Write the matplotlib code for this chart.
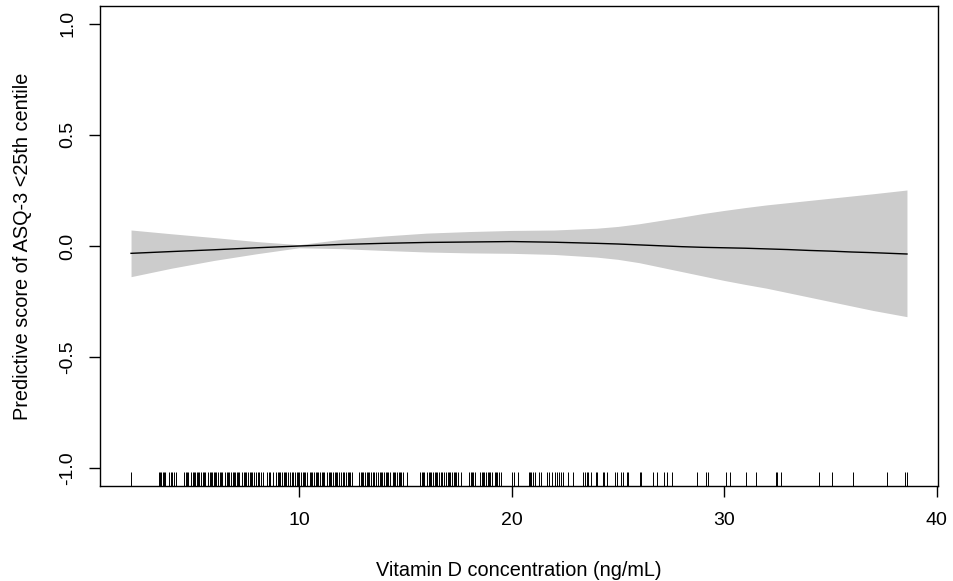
import matplotlib
matplotlib.use("Agg")
import matplotlib.pyplot as plt
import matplotlib.transforms as mtransforms
import numpy as np

plt.rcParams['font.family'] = ['Liberation Sans', 'DejaVu Sans']

# smooth fit
vitd = [2.1, 4.0, 6.0, 8.0, 10.0, 12.0, 14.0, 16.0, 18.0, 20.0, 22.0,
        24.0, 25.0, 26.0, 27.0, 28.0, 29.0, 30.0, 31.0, 32.0, 33.0, 34.0,
        35.0, 36.0, 37.0, 38.6]
fit = [-0.033, -0.025, -0.017, -0.008, 0.0, 0.007, 0.012, 0.016, 0.018, 0.020, 0.017,
       0.012, 0.009, 0.005, 0.001, -0.003, -0.006, -0.008, -0.010, -0.013, -0.016, -0.020,
       -0.023, -0.027, -0.030, -0.036]
upper = [0.072, 0.055, 0.038, 0.020, 0.006, 0.030, 0.045, 0.058, 0.065, 0.070, 0.072,
         0.080, 0.088, 0.100, 0.115, 0.130, 0.146, 0.160, 0.173, 0.185, 0.195, 0.205,
         0.215, 0.225, 0.235, 0.252]
lower = [-0.138, -0.100, -0.065, -0.035, -0.008, -0.012, -0.020, -0.027, -0.031, -0.033, -0.038,
         -0.050, -0.060, -0.075, -0.095, -0.115, -0.135, -0.155, -0.173, -0.190, -0.210, -0.230,
         -0.250, -0.270, -0.290, -0.318]

# observed values shown as rug
rug = [2.1,
       3.4, 3.45, 3.5, 3.6, 3.65, 3.7, 3.9, 4.0, 4.05, 4.1, 4.2, 4.6, 4.7, 4.75, 4.8, 4.9,
       5.0, 5.05, 5.1, 5.2, 5.25, 5.3, 5.4, 5.5, 5.55, 5.6, 5.7, 5.8, 5.85, 5.9, 6.0,
       6.05, 6.1, 6.2, 6.3, 6.35, 6.4, 6.5, 6.6, 6.65, 6.7, 6.8, 6.9, 6.95, 7.0, 7.1,
       7.15, 7.2, 7.3, 7.4, 7.45, 7.5, 7.6, 7.7, 7.75, 7.8, 7.9, 8.0, 8.05, 8.1, 8.2,
       8.3, 8.5, 8.6, 8.65, 8.8, 8.9, 9.0, 9.05, 9.1, 9.2, 9.3, 9.35, 9.4, 9.5, 9.6,
       9.65, 9.7, 9.8, 9.9, 9.95, 10.0, 10.1, 10.2, 10.25, 10.3, 10.4, 10.5, 10.55,
       10.6, 10.7, 10.8, 10.85, 10.9, 11.0, 11.1, 11.15, 11.2, 11.3, 11.4, 11.45, 11.5,
       11.6, 11.7, 11.75, 11.8, 11.9, 12.0, 12.05, 12.1, 12.2, 12.3, 12.35, 12.4, 12.5,
       12.8, 12.9, 12.95, 13.0, 13.1, 13.2, 13.25, 13.3, 13.4, 13.5, 13.55, 13.6, 13.7,
       13.8, 13.85, 13.9, 14.0, 14.1, 14.15, 14.2, 14.3, 14.4, 14.45, 14.5, 14.6, 14.7,
       14.75, 14.8, 14.9, 15.1, 15.7, 15.8, 15.85, 15.9, 16.0, 16.1, 16.15, 16.2, 16.3,
       16.4, 16.45, 16.5, 16.6, 16.7, 16.75, 16.8, 16.9, 17.0, 17.05, 17.1, 17.2, 17.3,
       17.35, 17.4, 17.5, 17.6, 18.0, 18.1, 18.15, 18.2, 18.3, 18.5, 18.6, 18.65, 18.7,
       18.8, 18.9, 18.95, 19.0, 19.1, 19.2, 19.25, 19.3, 19.4, 19.5, 20.0, 20.1, 20.3,
       20.8, 20.85, 20.93, 20.99, 21.11, 21.31, 21.37, 21.65, 21.77, 21.91, 22.04,
       22.12, 22.23, 22.31, 22.43, 22.64, 22.9, 23.37, 23.45, 23.53, 23.6, 23.72,
       23.97, 24.04, 24.28, 24.34, 24.47, 24.86, 24.94, 25.17, 25.25, 25.41, 25.48,
       26.03, 26.11, 26.65, 26.86, 27.16, 27.29, 27.57, 28.74, 29.14, 29.24, 30.1,
       30.29, 31.01, 31.48, 32.42, 32.49, 32.66, 34.46, 35.06, 36.08, 37.65, 38.53, 38.6]

xticks = [10, 20, 30, 40]
yticks = [-1.0, -0.5, 0.0, 0.5, 1.0]

fig = plt.figure(figsize=(9.54, 5.81), dpi=100)
ax = fig.add_axes([100 / 954, 1 - 486 / 581, 838 / 954, 480 / 581])

ax.fill_between(vitd, lower, upper, color='#cccccc', linewidth=0)
ax.plot(vitd, fit, color='black', linewidth=1.0)

# rug along the bottom, 3% of the plot height
trans = mtransforms.blended_transform_factory(ax.transData, ax.transAxes)
ax.vlines(rug, 0, 0.03, transform=trans, color='black', linewidth=0.7)

ax.set_xlim(0.64, 40.06)
ax.set_ylim(-1.08, 1.08)
ax.set_xticks(xticks)
ax.set_xticklabels([str(t) for t in xticks])
ax.set_yticks(yticks)
ax.set_yticklabels(['%.1f' % t for t in yticks], rotation=90, va='center')
ax.tick_params(axis='both', length=8, width=1, labelsize=14, color='black')
ax.tick_params(axis='x', pad=11)
ax.tick_params(axis='y', pad=9)
for s in ax.spines.values():
    s.set_linewidth(1)

ax.set_xlabel('Vitamin D concentration (ng/mL)', fontsize=14.3, labelpad=23)
ax.set_ylabel('Predictive score of ASQ-3 <25th centile', fontsize=14.3, labelpad=20)

fig.savefig('out.png', dpi=100)
